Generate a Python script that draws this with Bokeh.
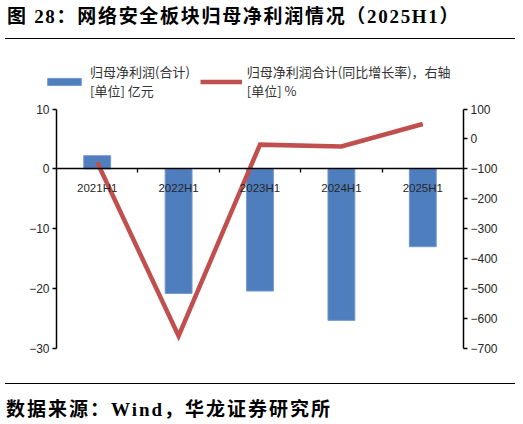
from bokeh.plotting import figure
from bokeh.models import (Range1d, LinearAxis, FixedTicker, Legend, LegendItem, Div)
from bokeh.layouts import column
from bokeh.embed import file_html
from bokeh.resources import INLINE

# ---- data ----
categories = ["2021H1", "2022H1", "2023H1", "2024H1", "2025H1"]
net_profit = [2.2, -20.8, -20.4, -25.3, -13.0]          # 亿元 (left axis)
yoy_growth = [-78, -658, -19, -25, 50]                   # % (right axis)
left_ticks = [-30, -20, -10, 0, 10]
right_ticks = [-700, -600, -500, -400, -300, -200, -100, 0, 100]

title_text = "图 28：网络安全板块归母净利润情况（2025H1）"
source_text = "数据来源：Wind，华龙证券研究所"
legend_bar = "归母净利润(合计)\n[单位] 亿元"
legend_line = "归母净利润合计(同比增长率)，右轴\n[单位] %"

n = len(categories)
xs = [i + 0.5 for i in range(n)]
bounds = [i for i in range(1, n)]

# ---- layout geometry (pixels) ----
W = 523
TOP_H, FIG_H, FOOT_H = 40, 343, 41
BL, BR, BT, BB = 28, 60, 0, 28            # borders around the frame
FW, FH = W - BL - BR, FIG_H - BT - BB     # frame size
AX_L, AX_R = 56 - BL, 463 - BL            # plot-area left/right (frame px)
AX_T, AX_B = 108.5 - TOP_H, 348 - TOP_H   # plot-area top/bottom (frame px)

sx = (AX_R - AX_L) / n
x_start = -AX_L / sx
x_end = (FW - AX_L) / sx
ly0, ly1 = left_ticks[0], left_ticks[-1]
syl = (AX_B - AX_T) / (ly1 - ly0)
ly_end = ly1 + AX_T / syl
ly_start = ly0 - (FH - AX_B) / syl
ry0, ry1 = right_ticks[0], right_ticks[-1]
syr = (AX_B - AX_T) / (ry1 - ry0)
ry_end = ry1 + AX_T / syr
ry_start = ry0 - (FH - AX_B) / syr

p = figure(width=W, height=FIG_H, output_backend="svg", toolbar_location=None,
           x_range=Range1d(x_start, x_end), y_range=Range1d(ly_start, ly_end),
           min_border_left=BL, min_border_right=BR, min_border_top=BT,
           min_border_bottom=BB)
p.title.visible = False
p.xgrid.visible = False
p.ygrid.visible = False
p.outline_line_color = None
p.background_fill_color = "white"
p.border_fill_color = "white"

def minus(t):
    return str(t).replace("-", "\u2212")

tick_font = "Liberation Sans"
tick_color = "#262626"

# bottom axis crossing at zero
xa = p.xaxis[0]
xa.fixed_location = 0
xa.bounds = (0, n)
xa.ticker = FixedTicker(ticks=xs, minor_ticks=bounds)
xa.major_label_overrides = {x: c for x, c in zip(xs, categories)}
xa.major_tick_line_color = None
xa.major_tick_in = 0
xa.major_tick_out = 0
xa.minor_tick_in = 0
xa.minor_tick_out = 4
xa.minor_tick_line_color = "black"
xa.minor_tick_line_width = 1.3
xa.axis_line_color = "black"
xa.axis_line_width = 1.5
xa.major_label_standoff = 9
xa.major_label_text_font = tick_font
xa.major_label_text_font_size = "11.5px"
xa.major_label_text_color = tick_color

ya = p.yaxis[0]
ya.fixed_location = 0
ya.bounds = (ly0, ly1)
ya.ticker = FixedTicker(ticks=left_ticks)
ya.major_label_overrides = {t: minus(t) for t in left_ticks}
ya.major_tick_in = 0
ya.major_tick_out = 4
ya.major_tick_line_color = "black"
ya.major_tick_line_width = 1.3
ya.minor_tick_line_color = None
ya.axis_line_color = "black"
ya.axis_line_width = 1.5
ya.major_label_standoff = 3
ya.major_label_text_font = tick_font
ya.major_label_text_font_size = "12px"
ya.major_label_text_color = tick_color

p.extra_y_ranges = {"yoy": Range1d(ry_start, ry_end)}
ra = LinearAxis(y_range_name="yoy", ticker=FixedTicker(ticks=right_ticks))
ra.bounds = (ry0, ry1)
ra.major_label_overrides = {t: minus(t) for t in right_ticks}
ra.major_tick_in = 0
ra.major_tick_out = 4
ra.major_tick_line_color = "black"
ra.major_tick_line_width = 1.3
ra.minor_tick_line_color = None
ra.axis_line_color = "black"
ra.axis_line_width = 1.5
ra.major_label_standoff = 3
ra.major_label_text_font = tick_font
ra.major_label_text_font_size = "12px"
ra.major_label_text_color = tick_color
p.add_layout(ra, "right")

bars = p.vbar(x=xs, top=net_profit, bottom=0, width=0.33,
              fill_color="#4F7EBE", line_color="#7097CF", line_width=1)
line = p.line(x=xs, y=yoy_growth, y_range_name="yoy",
              line_color="#C0504D", line_width=4.5, line_join="miter")

legend = Legend(items=[LegendItem(label=legend_bar, renderers=[bars]),
                       LegendItem(label=legend_line, renderers=[line])],
                orientation="horizontal", location=(43 - BL, FH - (100 - TOP_H)),
                glyph_width=42, glyph_height=9, label_standoff=5, spacing=10,
                padding=0, margin=0, border_line_color=None,
                background_fill_alpha=0,
                label_text_font="Noto Sans CJK SC",
                label_text_font_size="13px", label_text_color="#333333")
p.add_layout(legend, "center")

font_serif = "'Liberation Serif','Noto Sans CJK SC',serif"
title_div = Div(
    text=(f'<div style="width:510px;height:38px;margin-left:5px;'
          f'border-bottom:1px solid #000;box-sizing:content-box;">'
          f'<div style="padding-top:6px;padding-left:2px;line-height:22px;'
          f'font-family:{font_serif};font-weight:bold;font-size:19px;'
          f'letter-spacing:1.7px;color:#000;white-space:nowrap;">'
          f'{title_text}</div></div>'),
    width=W, height=TOP_H, margin=(0, 0, 0, 0))
footer_div = Div(
    text=(f'<div style="width:510px;margin-left:5px;border-top:1px solid #000;">'
          f'<div style="padding-top:15px;padding-left:1px;line-height:22px;'
          f'font-family:{font_serif};font-weight:bold;font-size:19px;'
          f'letter-spacing:2px;color:#000;white-space:nowrap;">'
          f'{source_text}</div></div>'),
    width=W, height=FOOT_H, margin=(0, 0, 0, 0))

layout = column(title_div, p, footer_div, spacing=0)
open("out.html", "w").write(file_html(layout, INLINE))
